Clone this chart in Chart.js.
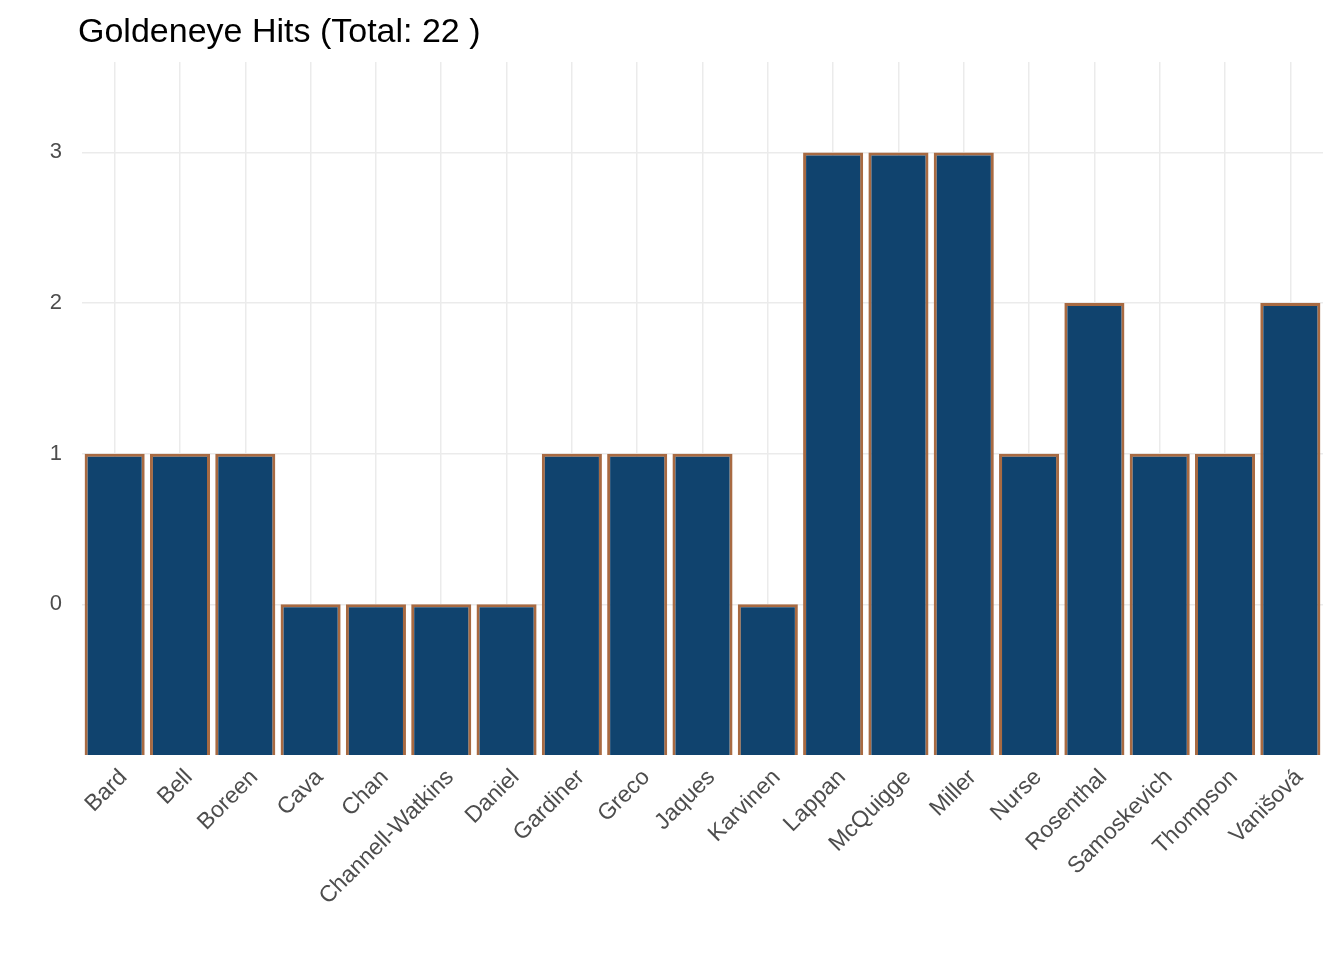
<!DOCTYPE html>
<html>
<head>
<meta charset="utf-8">
<title>Goldeneye Hits</title>
<script src="https://cdn.jsdelivr.net/npm/chart.js@4"></script>
<style>
    body { margin: 0; background: #fff; }
    #wrap { position: relative; width: 1344px; height: 960px; }
    #chartTitle {
        position: absolute; left: 78px; top: 13px;
        font-family: "Liberation Sans", Arial, sans-serif;
        font-size: 34px; line-height: 34px; color: #000;
    }
</style>
</head>
<body>
<div id="wrap">
    <div id="chartTitle"></div>
    <canvas id="hitsChart"></canvas>
</div>
<script>
// Players and their hit counts
const players = ['Bard', 'Bell', 'Boreen', 'Cava', 'Chan', 'Channell-Watkins', 'Daniel', 'Gardiner', 'Greco',
    'Jaques', 'Karvinen', 'Lappan', 'McQuigge', 'Miller', 'Nurse', 'Rosenthal', 'Samoskevich', 'Thompson', 'Vanišová'];
const hits = [1, 1, 1, 0, 0, 0, 0, 1, 1, 1, 0, 3, 3, 3, 1, 2, 1, 1, 2];
const yTicks = [0, 1, 2, 3];

const total = hits.reduce((a, b) => a + b, 0);
document.getElementById('chartTitle').textContent = 'Goldeneye Hits (Total: ' + total + ' )';

const fontFamily = '"Liberation Sans", Arial, sans-serif';

new Chart(document.getElementById('hitsChart'), {
    type: 'bar',
    data: {
        labels: players,
        datasets: [{
            data: hits,
            base: -1,
            backgroundColor: '#10436e',
            borderColor: '#a86a42',
            borderWidth: 3,
            categoryPercentage: 1,
            barPercentage: 0.92
        }]
    },
    options: {
        responsive: true,
        maintainAspectRatio: false,
        animation: false,
        layout: { padding: { top: 62, right: 21, left: 0, bottom: 0 } },
        plugins: {
            legend: { display: false },
            tooltip: { enabled: false }
        },
        scales: {
            x: {
                offset: true,
                grid: { offset: false, color: '#ebebeb', lineWidth: 1.5, drawTicks: false },
                border: { display: false },
                ticks: {
                    color: '#4d4d4d', font: { family: fontFamily, size: 23 },
                    minRotation: 45, maxRotation: 45, padding: 9, labelOffset: 9, autoSkip: false
                },
                afterFit: s => { s.height = 205; }
            },
            y: {
                min: -1,
                max: 3.6,
                grid: { color: '#ebebeb', lineWidth: 1.5, drawTicks: false },
                border: { display: false },
                ticks: { color: '#4d4d4d', font: { family: fontFamily, size: 22 }, padding: 20 },
                afterBuildTicks: s => { s.ticks = yTicks.map(v => ({ value: v })); },
                afterFit: s => { s.width = 82; }
            }
        }
    }
});
</script>
</body>
</html>
